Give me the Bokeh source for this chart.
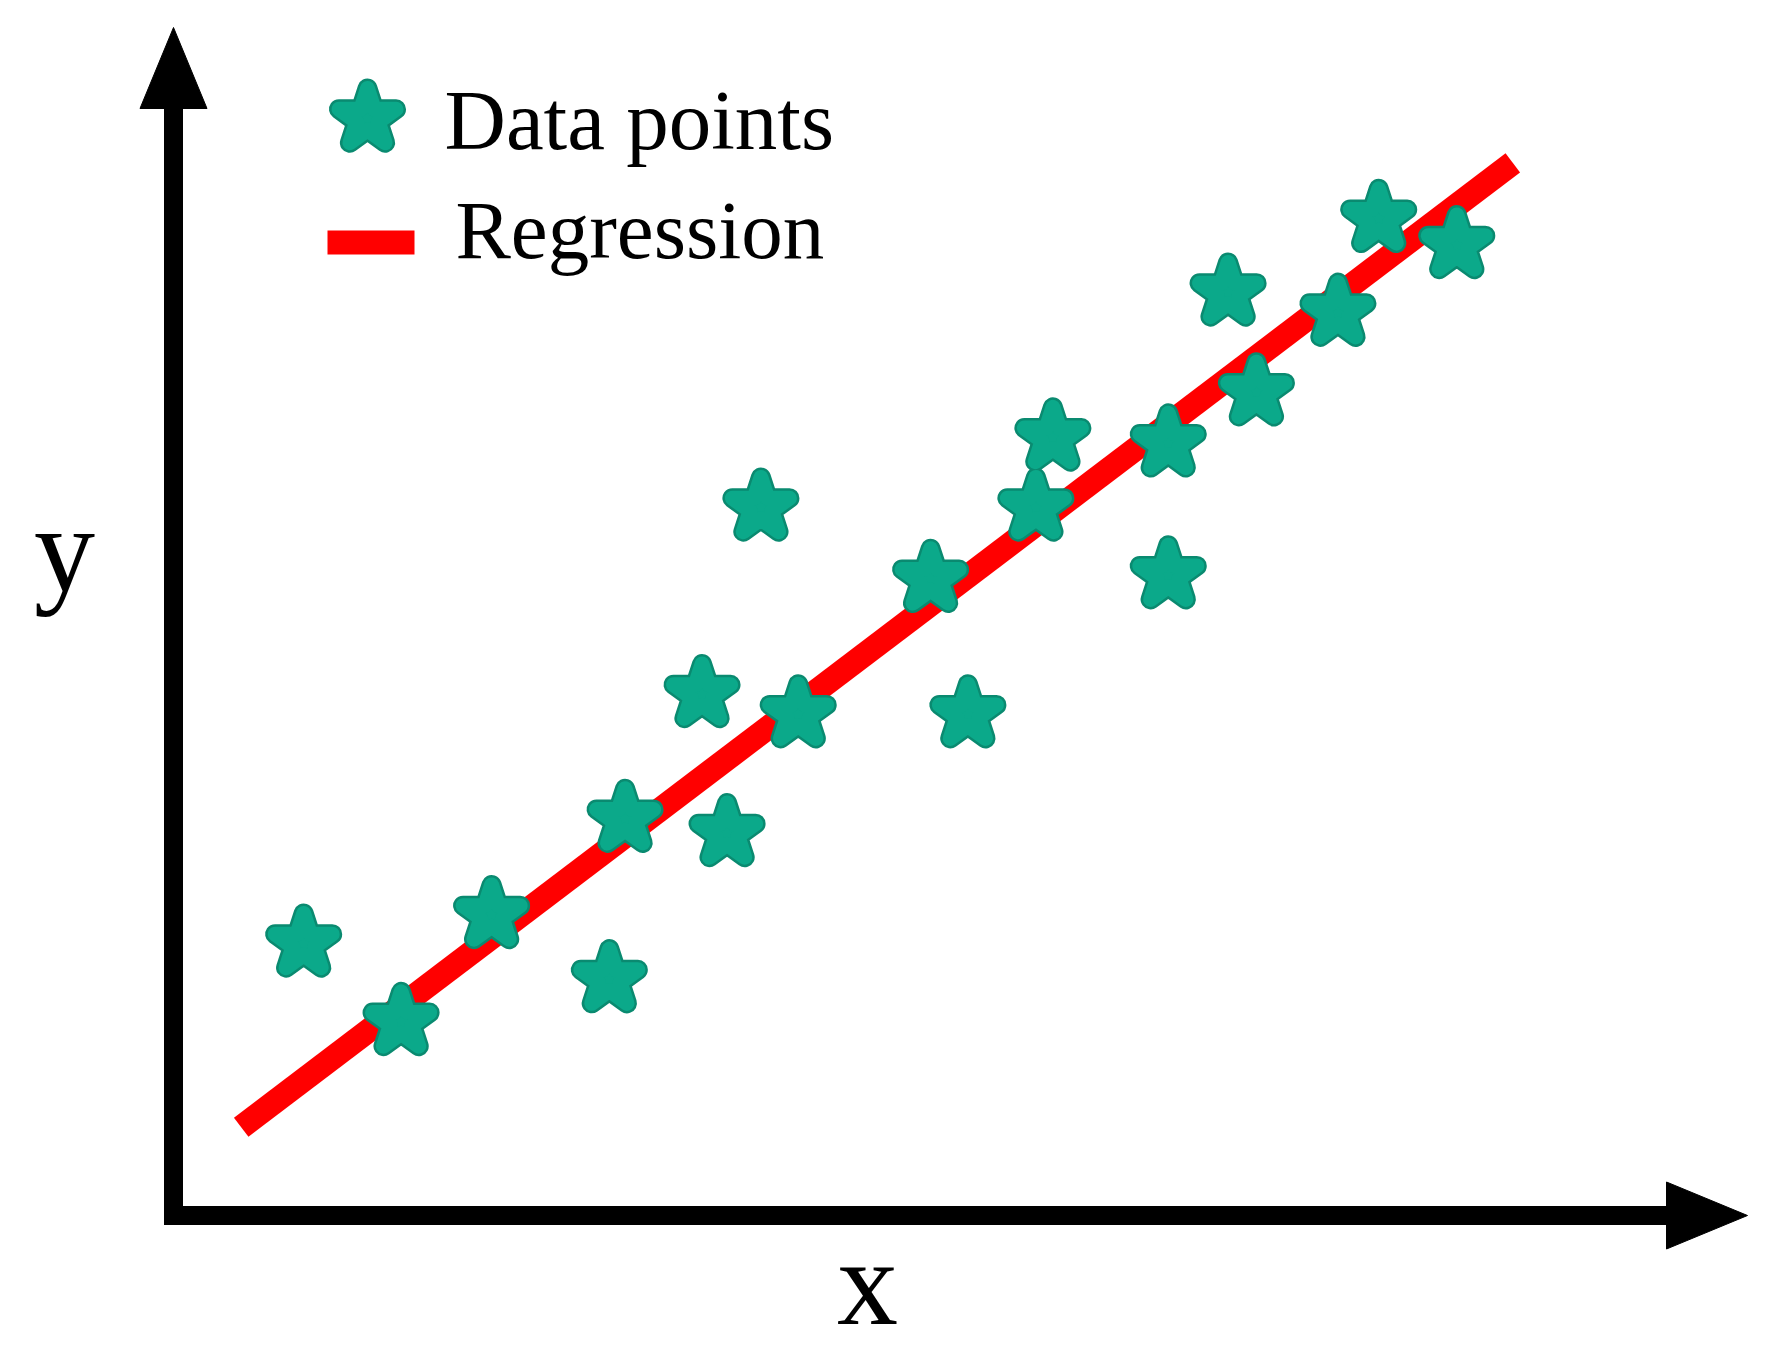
from bokeh.plotting import figure
from bokeh.models import Label, BoxAnnotation, Range1d
from bokeh.embed import file_html
from bokeh.resources import INLINE

# ---- data (axis units: origin = 0, arrow tips = 100) ----
x_vals = [8.27, 14.46, 20.21, 27.69, 28.69, 33.58, 35.17, 37.32, 39.69, 48.10,
          50.47, 54.79, 55.87, 63.20, 63.20, 67.00, 68.80, 73.98, 76.57, 81.53]
y_vals = [22.9, 16.3, 25.3, 19.9, 33.4, 43.9, 32.2, 59.6, 42.2, 53.6,
          42.2, 59.6, 65.5, 65.0, 53.9, 77.7, 69.3, 76.0, 83.9, 81.7]
reg_x = [4.30, 85.09]
reg_slope = 1.0048
reg_intercept = 3.11
legend_labels = ["Data points", "Regression"]
axis_labels = ["x", "y"]

# ---- layout (pixels from the top-left of the picture) ----
W, H = 1758, 1356
ORIGIN_X, ORIGIN_Y = 173, 1215
TIP_X, TIP_Y = 1747, 27
AXIS_W = 19
HEAD_LEN, HEAD_W = 81, 67
ux = (TIP_X - ORIGIN_X) / 100.0
uy = (ORIGIN_Y - TIP_Y) / 100.0
BASE_FIX = 0.34  # baseline correction for Label text (fraction of font size)

p = figure(width=W, height=H, output_backend="svg", toolbar_location=None,
           x_axis_location=None, y_axis_location=None,
           x_range=Range1d(-ORIGIN_X / ux, (W - ORIGIN_X) / ux),
           y_range=Range1d(-(H - ORIGIN_Y) / uy, ORIGIN_Y / uy),
           min_border=0, outline_line_color=None, background_fill_color="white",
           border_fill_color="white")
p.grid.visible = False

SERIF = "Liberation Serif"
TEAL = "#0BA98A"
TEAL_EDGE = "#0A8A70"


def label(text, px, py, fs, align="left"):
    p.add_layout(Label(x=px, y=H - py + BASE_FIX * fs, x_units="screen", y_units="screen",
                       text=text, text_font=SERIF, text_font_size=f"{fs}px",
                       text_color="black", text_align=align, text_baseline="alphabetic"))


# axes: shafts + arrow heads
half_x = (AXIS_W / 2) / ux
half_y = (AXIS_W / 2) / uy
y_base = 100 - HEAD_LEN / uy
x_base = 100 - HEAD_LEN / ux
p.segment(x0=[0, -half_x], y0=[-half_y, 0], x1=[0, x_base + 1 / ux], y1=[y_base + 1 / uy, 0],
          line_width=AXIS_W, line_color="black", line_cap="butt")
hw_x = (HEAD_W / 2) / ux
hw_y = (HEAD_W / 2) / uy
p.patches(xs=[[-hw_x, 0, hw_x], [x_base, 100, x_base]],
          ys=[[y_base, 100, y_base], [-hw_y, 0, hw_y]],
          fill_color="black", line_color="black", line_width=1)

# regression line
reg_y = [reg_intercept + reg_slope * v for v in reg_x]
p.line(reg_x, reg_y, line_width=24, line_color="#FF0000", line_cap="butt")


def stars(xs, ys, size):
    # rounded, plump stars: thick dark outline under a filled star
    p.scatter(xs, ys, marker="star", size=size, fill_color=TEAL_EDGE,
              line_color=TEAL_EDGE, line_width=20, line_join="round")
    p.scatter(xs, ys, marker="star", size=size, fill_color=TEAL,
              line_color=TEAL, line_width=15, line_join="round")


# data points
stars(x_vals, y_vals, 60)

# legend
lx = (367 - ORIGIN_X) / ux
ly = (ORIGIN_Y - 118) / uy
stars([lx], [ly], 60)
label(legend_labels[0], 444, 148, 85)
p.add_layout(BoxAnnotation(left=327, right=414, bottom=H - 254, top=H - 230,
                           left_units="screen", right_units="screen",
                           bottom_units="screen", top_units="screen",
                           fill_color="#FF0000", fill_alpha=1.0, line_color=None))
label(legend_labels[1], 455, 258, 83)

# axis labels
label(axis_labels[0], 867, 1323, 122, "center")
label(axis_labels[1], 64, 590, 122, "center")

open("out.html", "w").write(file_html(p, INLINE))
